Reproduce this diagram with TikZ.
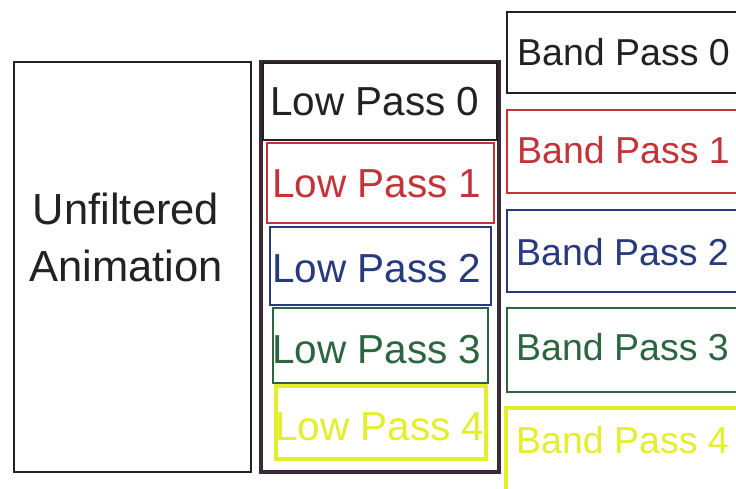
\documentclass[tikz,border=0pt]{standalone}
\usepackage{fontspec}
\setmainfont{Liberation Sans}
\definecolor{cblack}{HTML}{222222}
\definecolor{cred}{HTML}{C2343A}
\definecolor{cblue}{HTML}{283A7E}
\definecolor{cgreen}{HTML}{2C6641}
\definecolor{cyellow}{HTML}{E4EE2A}
\definecolor{couter}{HTML}{3A2A38}
\begin{document}
\begin{tikzpicture}[x=1pt,y=-1pt,
  box/.style={draw, line width=2.6pt, fill=white},
  lbl/.style={anchor=base west, inner sep=0pt, font=\fontsize{40.5}{44}\selectfont},
  blbl/.style={anchor=base west, inner sep=0pt, font=\fontsize{37.5}{42}\selectfont}]
\clip (0,0) rectangle (736,488);
\fill[white] (0,0) rectangle (736,488);
% Unfiltered
\draw[box, draw=cblack, line width=2.8pt] (14,62) rectangle (251,472);
\node[align=center, inner sep=0pt, font=\fontsize{43.5}{57}\selectfont, text=cblack] (unf) at (126,237) {Unfiltered\\Animation};
% Low pass column
\draw[box, draw=couter, line width=3.5pt] (261,62) rectangle (499,472);
\draw[box, draw=cblack] (263,63) rectangle (497,140);
\draw[box, draw=cred] (267,143) rectangle (494,223);
\draw[box, draw=cblue] (270,227) rectangle (491,305);
\draw[box, draw=cgreen] (273,308) rectangle (488,383);
\draw[box, draw=cyellow, line width=3.5pt] (276,386) rectangle (486,459);
\node[lbl, text=cblack] (lp0) at (270,115) {Low Pass 0};
\node[lbl, text=cred] (lp1) at (272,197) {Low Pass 1};
\node[lbl, text=cblue] (lp2) at (272,282) {Low Pass 2};
\node[lbl, text=cgreen] (lp3) at (272,363) {Low Pass 3};
\node[lbl, text=cyellow] (lp4) at (275,440) {Low Pass 4};
% Band pass column
\draw[box, draw=cblack] (507,12) rectangle (745,93);
\draw[box, draw=cred] (507,110) rectangle (745,193);
\draw[box, draw=cblue] (507,210) rectangle (745,292);
\draw[box, draw=cgreen] (507,308) rectangle (745,392);
\draw[box, draw=cyellow, line width=3.5pt] (506,408) rectangle (745,500);
\node[blbl, text=cblack] (bp0) at (517,65) {Band Pass 0};
\node[blbl, text=cred] (bp1) at (517,163) {Band Pass 1};
\node[blbl, text=cblue] (bp2) at (516,265) {Band Pass 2};
\node[blbl, text=cgreen] (bp3) at (516,360) {Band Pass 3};
\node[blbl, text=cyellow] (bp4) at (516,453) {Band Pass 4};
\end{tikzpicture}
\end{document}
